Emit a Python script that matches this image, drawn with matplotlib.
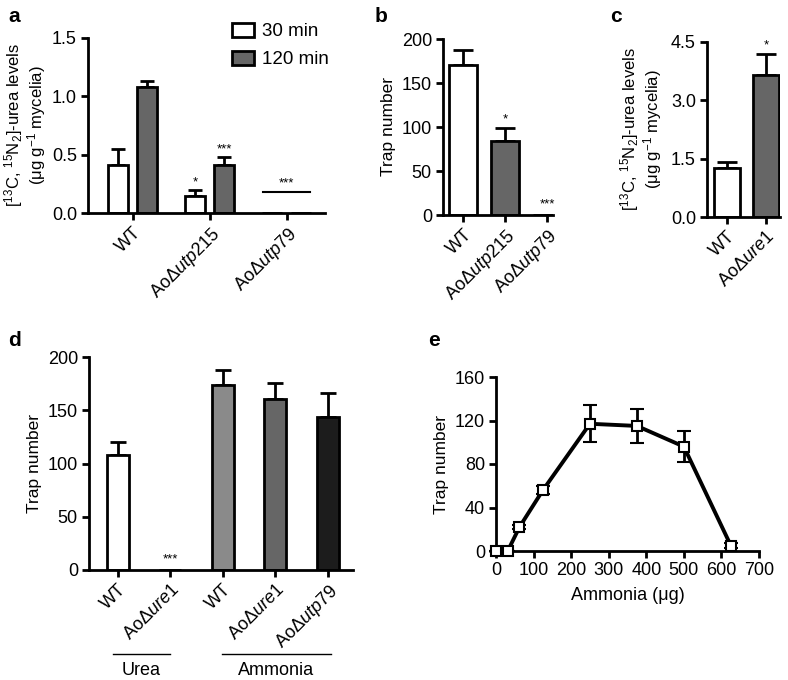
import matplotlib.pyplot as plt
import matplotlib.transforms as mtransforms

plt.rcParams['font.family'] = ['Liberation Sans', 'DejaVu Sans']
plt.rcParams['mathtext.fontset'] = 'custom'
plt.rcParams['mathtext.rm'] = 'Liberation Sans'
plt.rcParams['mathtext.it'] = 'Liberation Sans:italic'
plt.rcParams['axes.linewidth'] = 2
plt.rcParams['xtick.major.width'] = 2
plt.rcParams['ytick.major.width'] = 2
plt.rcParams['xtick.major.size'] = 5
plt.rcParams['ytick.major.size'] = 5

# -----------------------
# DATA
# -----------------------

# panel a
a_labels = ["WT", r"Ao$\Delta\mathit{utp215}$", r"Ao$\Delta\mathit{utp79}$"]
a_30 = [0.41, 0.15, 0.0]
a_30_err = [0.14, 0.05, 0.0]
a_120 = [1.08, 0.41, 0.0]
a_120_err = [0.05, 0.07, 0.0]
a_utp79_line = 0.18

# panel b
b_labels = ["WT", r"Ao$\Delta\mathit{utp215}$", r"Ao$\Delta\mathit{utp79}$"]
b_vals = [170, 84, 0]
b_err = [17, 15, 0]

# panel c
c_labels = ["WT", r"Ao$\Delta\mathit{ure1}$"]
c_vals = [1.25, 3.65]
c_err = [0.17, 0.55]

# panel d
d_labels = ["WT", r"Ao$\Delta\mathit{ure1}$", "WT", r"Ao$\Delta\mathit{ure1}$", r"Ao$\Delta\mathit{utp79}$"]
d_vals = [108, 0, 174, 161, 144]
d_err = [12, 0, 14, 15, 22]
d_colors = ["white", "white", "#8a8a8a", "#666666", "#1c1c1c"]

# panel e
e_x = [0, 31.25, 62.5, 125, 250, 375, 500, 625]
e_y = [0, 0, 22, 56, 117, 115, 96, 5]
e_err = [0, 0, 2, 4, 17, 16, 14, 2]

GREY = "#666666"
W, H = 788, 680
TICK_FS = 13
LAB_FS = 12.5
UREA_LABEL = "[$^{13}$C, $^{15}$N$_2$]-urea levels\n(μg g$^{-1}$ mycelia)"


def ax_px(left, top, right, bottom):
    return [left / W, 1 - bottom / H, (right - left) / W, (bottom - top) / H]


def style(ax):
    ax.spines['top'].set_visible(False)
    ax.spines['right'].set_visible(False)
    ax.tick_params(labelsize=TICK_FS, pad=3)


def rot_labels(ax, labels):
    ax.set_xticklabels(labels, rotation=45, ha='right', rotation_mode='anchor', fontsize=TICK_FS)


fig = plt.figure(figsize=(W / 100, H / 100), dpi=100)

# -----------------------
# PANEL A
# -----------------------
ax = fig.add_axes(ax_px(88, 38, 325, 213))
style(ax)
pos = list(range(len(a_labels)))
off = 0.19
bw = 0.26
ax.bar([p - off for p in pos], a_30, bw, color="white", edgecolor="black", linewidth=2,
       label="30 min", zorder=2)
ax.bar([p + off for p in pos], a_120, bw, color=GREY, edgecolor="black", linewidth=2,
       label="120 min", zorder=2)
ax.errorbar([p - off for p in pos[:2]], a_30[:2], yerr=[[0, 0], a_30_err[:2]], fmt='none',
            ecolor='black', elinewidth=2, capsize=5, capthick=2, zorder=1)
ax.errorbar([p + off for p in pos[:2]], a_120[:2], yerr=[[0, 0], a_120_err[:2]], fmt='none',
            ecolor='black', elinewidth=2, capsize=5, capthick=2, zorder=1)
ax.plot([1.69, 2.31], [a_utp79_line, a_utp79_line], color='black', lw=1.5)
ax.text(1 - off, a_30[1] + a_30_err[1] + 0.01, "*", ha='center', va='bottom', fontsize=9.5)
ax.text(1 + off, a_120[1] + a_120_err[1] + 0.01, "***", ha='center', va='bottom', fontsize=9.5)
ax.text(2, a_utp79_line + 0.02, "***", ha='center', va='bottom', fontsize=9.5)
ax.set_xlim(-0.58, 2.5)
ax.set_ylim(0, 1.5)
ax.set_yticks([0, 0.5, 1.0, 1.5])
ax.set_yticklabels(["0.0", "0.5", "1.0", "1.5"])
ax.set_xticks(pos)
rot_labels(ax, a_labels)
ax.set_ylabel(UREA_LABEL, fontsize=12, linespacing=1.0, labelpad=3)
ax.legend(loc='upper left', bbox_to_anchor=(224 / W, 1 - 15 / H), bbox_transform=fig.transFigure,
          frameon=False, fontsize=13.5, handlelength=1.2, handleheight=0.8, labelspacing=0.55,
          handletextpad=0.4, borderaxespad=0)

# -----------------------
# PANEL B
# -----------------------
ax = fig.add_axes(ax_px(443, 39, 553, 215))
style(ax)
pos = list(range(len(b_labels)))
ax.bar(pos, b_vals, 0.67, color=["white", GREY, "white"], edgecolor="black", linewidth=2, zorder=2)
ax.errorbar(pos[:2], b_vals[:2], yerr=[[0, 0], b_err[:2]], fmt='none', ecolor='black',
            elinewidth=2, capsize=7, capthick=2, zorder=1)
ax.text(1, b_vals[1] + b_err[1] + 3, "*", ha='center', va='bottom', fontsize=9.5)
ax.text(2, 5, "***", ha='center', va='bottom', fontsize=9.5)
ax.set_xlim(-0.48, 2.14)
ax.set_ylim(0, 200)
ax.set_yticks([0, 50, 100, 150, 200])
ax.set_xticks(pos)
rot_labels(ax, b_labels)
ax.set_ylabel("Trap number", fontsize=LAB_FS)

# -----------------------
# PANEL C
# -----------------------
ax = fig.add_axes(ax_px(707, 42, 780, 217))
style(ax)
pos = list(range(len(c_labels)))
ax.bar(pos, c_vals, 0.67, color=["white", GREY], edgecolor="black", linewidth=2, zorder=2)
ax.errorbar(pos, c_vals, yerr=[[0, 0], c_err], fmt='none', ecolor='black',
            elinewidth=2, capsize=7, capthick=2, zorder=1)
ax.text(1, c_vals[1] + c_err[1] + 0.05, "*", ha='center', va='bottom', fontsize=9.5)
ax.set_xlim(-0.51, 1.36)
ax.set_ylim(0, 4.5)
ax.set_yticks([0, 1.5, 3.0, 4.5])
ax.set_yticklabels(["0.0", "1.5", "3.0", "4.5"])
ax.set_xticks(pos)
rot_labels(ax, c_labels)
ax.set_ylabel(UREA_LABEL, fontsize=12, linespacing=1.0, labelpad=5)

# -----------------------
# PANEL D
# -----------------------
ax = fig.add_axes(ax_px(89, 357, 353, 570))
style(ax)
pos = list(range(len(d_labels)))
ax.bar(pos, d_vals, 0.42, color=d_colors, edgecolor="black", linewidth=2, zorder=2)
err_pos = [p for p, e in zip(pos, d_err) if e > 0]
err_val = [v for v, e in zip(d_vals, d_err) if e > 0]
err_up = [e for e in d_err if e > 0]
ax.errorbar(err_pos, err_val, yerr=[[0] * len(err_up), err_up], fmt='none', ecolor='black',
            elinewidth=2, capsize=6, capthick=2, zorder=1)
ax.text(1, 4, "***", ha='center', va='bottom', fontsize=9.5)
ax.set_xlim(-0.55, 4.48)
ax.set_ylim(0, 200)
ax.set_yticks([0, 50, 100, 150, 200])
ax.set_xticks(pos)
rot_labels(ax, d_labels)
ax.set_ylabel("Trap number", fontsize=LAB_FS)
trans = mtransforms.blended_transform_factory(ax.transData, ax.transAxes)
ax.plot([-0.1, 0.99], [-0.394, -0.394], color='black', lw=1, transform=trans, clip_on=False)
ax.plot([1.98, 4.06], [-0.394, -0.394], color='black', lw=1, transform=trans, clip_on=False)
ax.text(0.45, -0.47, "Urea", ha='center', va='center', fontsize=LAB_FS + 0.5, transform=trans)
ax.text(3.02, -0.47, "Ammonia", ha='center', va='center', fontsize=LAB_FS + 0.5, transform=trans)

# -----------------------
# PANEL E
# -----------------------
ax = fig.add_axes(ax_px(496, 377, 759, 551))
style(ax)
ax.errorbar(e_x, e_y, yerr=e_err, color='black', lw=2.8, elinewidth=2, capsize=5, capthick=2,
            marker='s', markersize=6.5, markerfacecolor='white', markeredgecolor='black',
            markeredgewidth=1.5, clip_on=False, zorder=3)
ax.set_xlim(0, 700)
ax.set_ylim(0, 160)
ax.set_xticks([0, 100, 200, 300, 400, 500, 600, 700])
ax.set_yticks([0, 40, 80, 120, 160])
ax.set_xlabel("Ammonia (μg)", fontsize=LAB_FS + 0.5, labelpad=6)
ax.set_ylabel("Trap number", fontsize=LAB_FS)

# panel letters
for letter, x, y in [("a", 8, 16), ("b", 375, 16), ("c", 610, 16), ("d", 8, 340), ("e", 428, 340)]:
    fig.text(x / W, 1 - y / H, letter, fontsize=15, fontweight='bold', ha='left', va='center')

fig.savefig("out.png", dpi=100)
